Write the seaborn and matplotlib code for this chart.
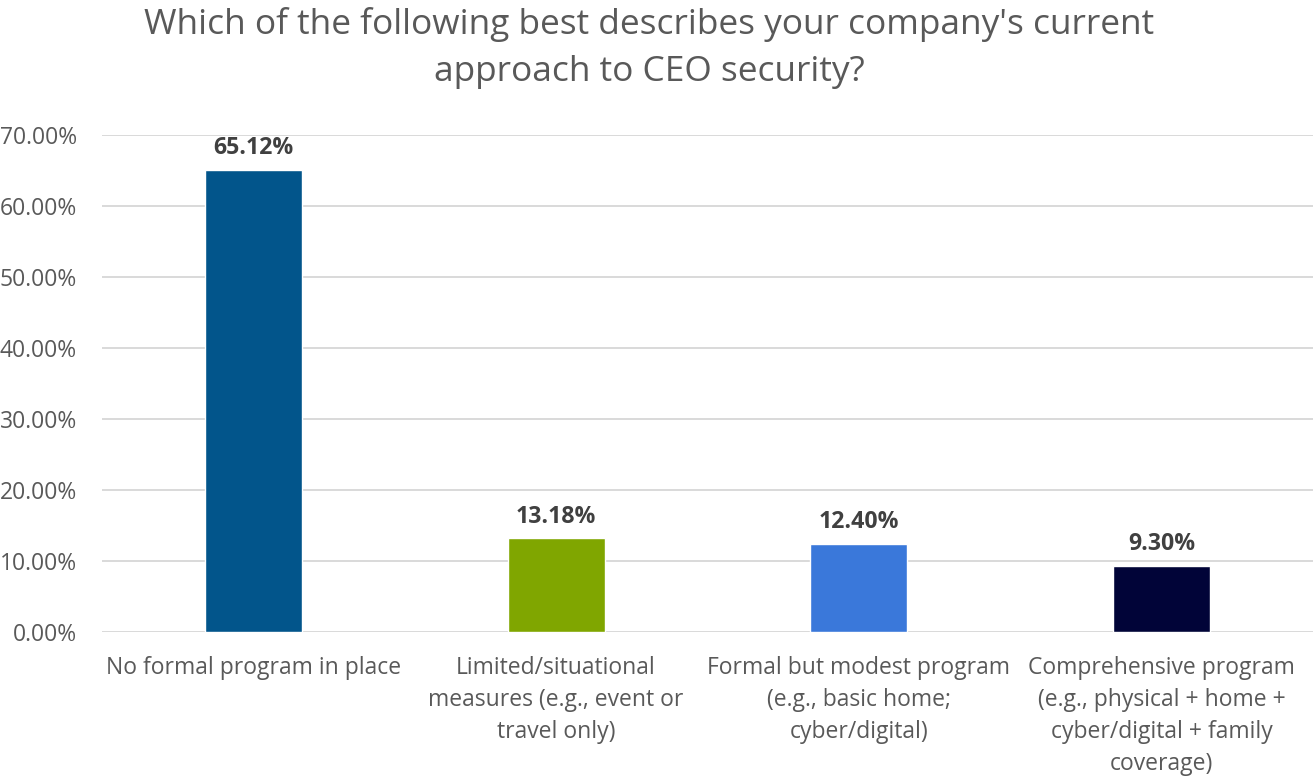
import matplotlib
matplotlib.use("Agg")
import matplotlib.pyplot as plt
import seaborn as sns
import pandas as pd
from matplotlib.ticker import FuncFormatter

categories = [
    "No formal program in place",
    "Limited/situational\nmeasures (e.g., event or\ntravel only)",
    "Formal but modest program\n(e.g., basic home;\ncyber/digital)",
    "Comprehensive program\n(e.g., physical + home +\ncyber/digital + family\ncoverage)",
]
values = [65.12, 13.18, 12.40, 9.30]
bar_colors = ["#02558B", "#80A600", "#3A78DA", "#010438"]
y_ticks = [0, 10, 20, 30, 40, 50, 60, 70]

sns.set_theme(style="white")
plt.rcParams["font.family"] = ["Open Sans", "DejaVu Sans"]

df = pd.DataFrame({"category": categories, "value": values})

fig = plt.figure(figsize=(13.14, 7.78), dpi=100)
ax = fig.add_axes([0.0776, 0.1877, 0.9216, 0.6388])

sns.barplot(data=df, x="category", y="value", hue="category",
            palette=bar_colors, legend=False, width=0.32,
            saturation=1, ax=ax, zorder=3)

ax.set_ylim(0, 70)
ax.set_xlim(-0.5, 3.5)
ax.set_yticks(y_ticks)
ax.yaxis.set_major_formatter(FuncFormatter(lambda v, _: f"{v:.2f}%"))
ax.grid(axis="y", color="#D9D9D9", linewidth=1.4, zorder=0)
ax.grid(axis="x", visible=False)
for s in ax.spines.values():
    s.set_visible(False)
ax.tick_params(axis="y", length=0, pad=18, labelsize=16.5, labelcolor="#595959")
ax.tick_params(axis="x", length=0, pad=17.5, labelsize=16.5, labelcolor="#595959")
for lbl in ax.get_xticklabels():
    lbl.set_linespacing(1.44)
ax.set_xlabel("")
ax.set_ylabel("")

for container in ax.containers:
    ax.bar_label(container, fmt="%.2f%%", padding=7, fontsize=16.7,
                 fontweight="bold", color="#404040")

fig.suptitle("Which of the following best describes your company's current\napproach to CEO security?",
             x=0.4939, y=0.9906, fontsize=25.4, color="#595959", linespacing=1.5, va="top")

fig.savefig("out.png", dpi=100, facecolor="white")
